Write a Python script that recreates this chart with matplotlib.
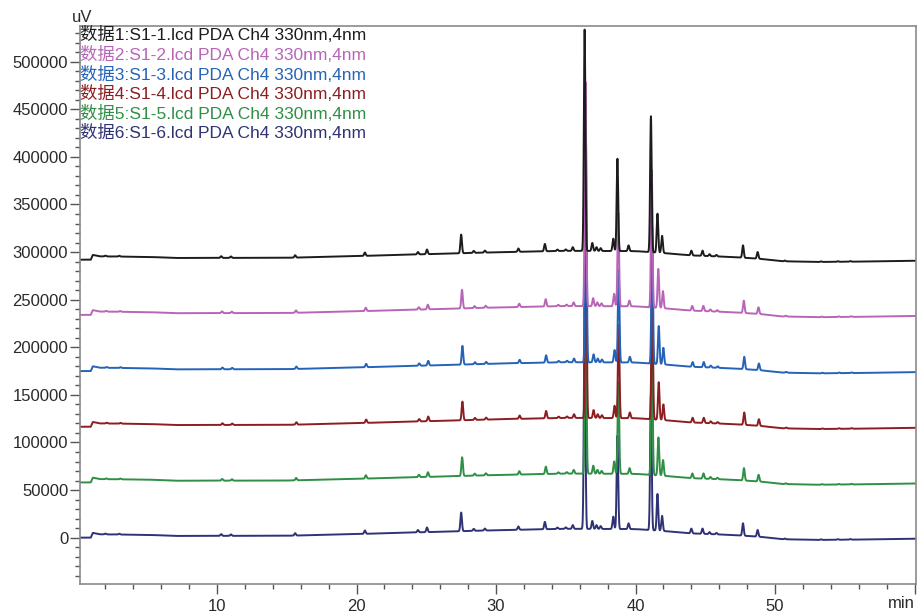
import matplotlib
matplotlib.use('Agg')
import matplotlib.pyplot as plt
from matplotlib.ticker import MultipleLocator, FixedLocator
import numpy as np

plt.rcParams['font.family'] = ['Liberation Sans', 'Noto Sans CJK SC', 'DejaVu Sans']

# trace names and colours (top to bottom in the legend)
labels = ["数据1:S1-1.lcd PDA Ch4 330nm,4nm",
          "数据2:S1-2.lcd PDA Ch4 330nm,4nm",
          "数据3:S1-3.lcd PDA Ch4 330nm,4nm",
          "数据4:S1-4.lcd PDA Ch4 330nm,4nm",
          "数据5:S1-5.lcd PDA Ch4 330nm,4nm",
          "数据6:S1-6.lcd PDA Ch4 330nm,4nm"]
colors = ["#1c1c1c", "#b865b8", "#2563b8", "#8c1e22", "#2e8f45", "#2f3275"]

# vertical offset of every trace (uV) and small retention drift (min)
offsets = [292000, 234000, 175000, 116500, 58000, 0]
rt_shift = [0.0, 0.06, 0.09, 0.09, 0.07, 0.0]

# baseline drift (min, uV above offset)
base_t = [0.18, 0.95, 1.1, 1.6, 5.0, 7.0, 15.0, 20.0, 25.0, 30.0, 35.0, 40.0,
          42.0, 44.0, 47.0, 49.0, 50.5, 53.0, 56.0, 60.1]
base_v = [0, 0, 5000, 3500, 3000, 1800, 2000, 3800, 5800, 7800, 9300, 9000,
          7000, 4500, 2800, 800, -1600, -2400, -2000, -1100]

# minor peaks shared by all traces (min, uV)
minor_rt = [2.0, 3.0, 10.3, 11.0, 15.6, 20.6, 24.4, 25.05, 27.5, 28.4, 29.2,
            31.6, 33.5, 34.4, 35.0, 35.5, 36.9, 37.2, 37.5, 38.4, 39.5,
            44.0, 44.8, 45.3, 45.8, 47.7, 48.75, 50.7, 53.3, 54.5, 55.4]
minor_h = [800, 800, 1800, 1500, 2500, 3500, 2500, 4900, 19600, 2100, 2100,
           3500, 7700, 1500, 1500, 3900, 8400, 4000, 3000, 13000, 6000,
           5000, 5500, 2000, 1500, 13000, 7000, 800, 600, 600, 600]

# main peaks, height per trace
main_rt = [36.35, 38.7, 41.1, 41.57, 41.9]
main_h = [[233000, 97000, 143000, 41000, 18000],
          [236000, 98000, 144000, 41000, 18000],
          [236000, 98000, 144000, 40000, 17500],
          [235000, 98000, 143000, 39500, 16500],
          [235000, 97000, 143000, 40000, 16500],
          [234000, 98000, 142000, 38500, 15800]]

t = np.linspace(0.18, 60.1, 8000)
sigma = 0.055

fig = plt.figure(figsize=(9.17, 6.13), dpi=100)
ax = fig.add_axes([80 / 917, 1 - 584.3 / 613, 836 / 917, 558.3 / 613])

for i in reversed(range(len(labels))):
    y = offsets[i] + np.interp(t, base_t, base_v)
    for rt, h in zip(minor_rt + main_rt, minor_h + main_h[i]):
        y = y + h * np.exp(-0.5 * ((t - rt - rt_shift[i]) / sigma) ** 2)
    ax.plot(t, y, color=colors[i], lw=1.4)

ax.set_xlim(0.18, 60.1)
ax.set_ylim(-49000, 537500)

ax.xaxis.set_major_locator(FixedLocator([10, 20, 30, 40, 50, 60]))
ax.set_xticklabels(['10', '20', '30', '40', '50', ''])
ax.xaxis.set_minor_locator(MultipleLocator(2))
ax.yaxis.set_major_locator(MultipleLocator(50000))
ax.yaxis.set_minor_locator(MultipleLocator(10000))
ax.yaxis.set_major_formatter(matplotlib.ticker.FuncFormatter(lambda v, p: '%d' % v))

ax.tick_params(which='major', direction='out', length=7, width=1, color='#555555',
               labelsize=12, labelcolor='#2a2a2a')
ax.tick_params(axis='y', which='major', pad=1.5)
ax.tick_params(axis='x', which='major', pad=3.5)
ax.tick_params(which='minor', direction='out', length=3.5, width=1, color='#555555')
for s in ax.spines.values():
    s.set_color('#8a8a8a')
    s.set_linewidth(1.2)

fig.text(72 / 917, 1 - 17 / 613, 'uV', fontsize=12, color='#2a2a2a', va='center')
fig.text(915 / 917, 1 - 604 / 613, 'min', fontsize=12, color='#2a2a2a',
         va='center', ha='right')

for k, (lab, c) in enumerate(zip(labels, colors)):
    fig.text(80 / 917, 1 - (35 + 19.6 * k) / 613, lab, fontsize=12.5, color=c,
             va='center', ha='left')

fig.savefig('out.png', dpi=100)
